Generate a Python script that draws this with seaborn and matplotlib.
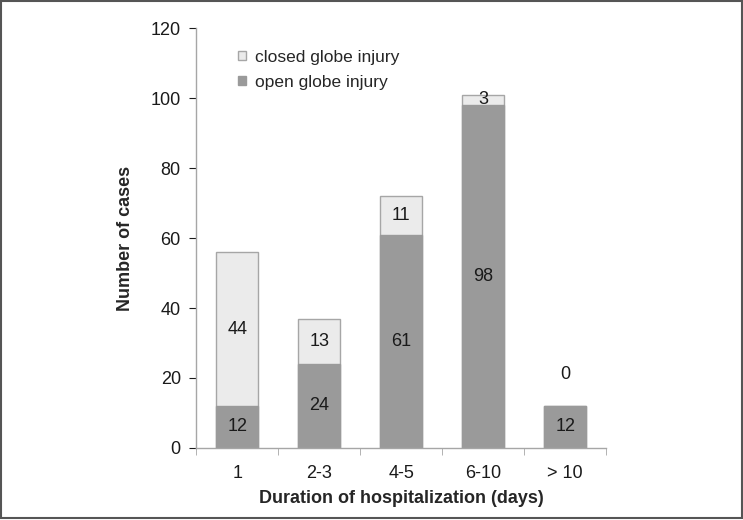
import pandas as pd
import numpy as np
import matplotlib.pyplot as plt
import seaborn as sns

# data
durations = ["1", "2-3", "4-5", "6-10", "> 10"]
open_globe = [12, 24, 61, 98, 12]
closed_globe = [44, 13, 11, 3, 0]

df = pd.DataFrame({"duration": durations, "open": open_globe, "closed": closed_globe})
df["total"] = df["open"] + df["closed"]

sns.set_style("white")
plt.rcParams["font.family"] = ["Liberation Sans", "DejaVu Sans"]

fig = plt.figure(figsize=(7.43, 5.2), dpi=100)
ax = fig.add_axes([0.264, 0.1385, 0.552, 0.8075])

# the total bar drawn first (closed on top), then open on top of it
sns.barplot(data=df, x="duration", y="total", color="#ebebeb", edgecolor="#a6a6a6",
            linewidth=1, width=0.51, saturation=1, ax=ax, label="closed globe injury")
sns.barplot(data=df, x="duration", y="open", color="#9a9a9a", edgecolor="#9a9a9a",
            linewidth=1, width=0.51, saturation=1, ax=ax, label="open globe injury")

# value labels
for i, row in df.iterrows():
    ax.text(i, row["open"] / 2, str(row["open"]), ha="center", va="center",
            fontsize=13, color="#1a1a1a")
    if row["closed"] > 0:
        ax.text(i, row["open"] + row["closed"] / 2, str(row["closed"]), ha="center",
                va="center", fontsize=13, color="#1a1a1a")
    else:
        ax.annotate("0", (i, row["total"]), xytext=(0, 23), textcoords="offset points",
                    ha="center", va="center", fontsize=13, color="#1a1a1a")

ax.set_ylim(0, 120)
ax.set_xlim(-0.5, 4.5)
ax.set_yticks(range(0, 121, 20))
ax.set_xticks(np.arange(5))
ax.set_xticklabels(durations)
ax.set_xticks(np.arange(-0.5, 5, 1), minor=True)
ax.tick_params(axis="x", which="major", length=0, pad=12, labelsize=13, colors="#1a1a1a")
ax.tick_params(axis="x", which="minor", length=5, direction="out", color="#a6a6a6",
               bottom=True)
ax.tick_params(axis="y", length=5, direction="out", labelsize=13, colors="#1a1a1a",
               pad=6, left=True)
for t in ax.yaxis.get_ticklines():
    t.set_color("#a6a6a6")

for s in ["top", "right"]:
    ax.spines[s].set_visible(False)
for s in ["left", "bottom"]:
    ax.spines[s].set_color("#a6a6a6")
    ax.spines[s].set_linewidth(1)

ax.set_xlabel("Duration of hospitalization (days)", fontsize=13, fontweight="bold",
              labelpad=6)
ax.set_ylabel("Number of cases", fontsize=13, fontweight="bold", labelpad=12)

leg = ax.legend(loc="upper left", bbox_to_anchor=(0.065, 0.985), frameon=False,
                fontsize=12.5, handlelength=0.45, handleheight=0.45, handletextpad=0.5,
                labelspacing=0.55)

# thin frame round the whole picture
fig.patches.append(plt.Rectangle((0.002, 0.003), 0.996, 0.995, transform=fig.transFigure,
                                 fill=False, edgecolor="#555555", linewidth=1.5))

plt.savefig("out.png", dpi=100)
